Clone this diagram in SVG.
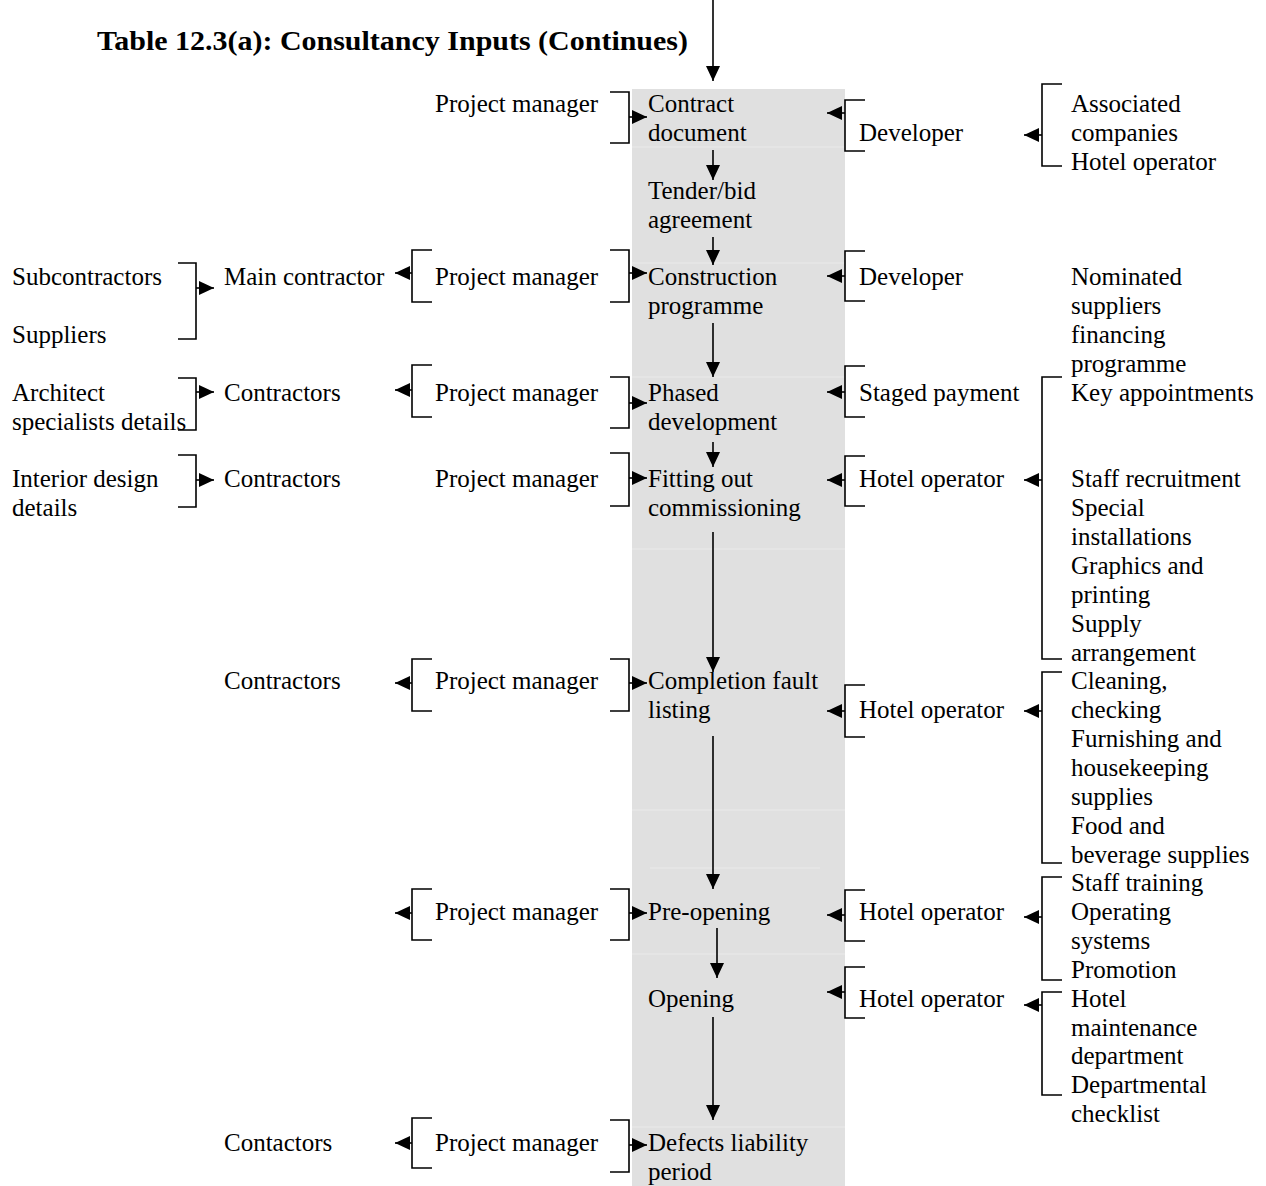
<svg xmlns="http://www.w3.org/2000/svg" width="1266" height="1186" viewBox="0 0 1266 1186">
<style>
.t{font-family:"Liberation Serif","Times New Roman",serif;font-size:25px;fill:#000}
.ti{font-family:"Liberation Serif","Times New Roman",serif;font-size:27px;font-weight:bold;fill:#000}
.c{stroke:#000;stroke-width:1.6;fill:none}
.a{stroke:#000;stroke-width:1.6;fill:none;marker-end:url(#ah)}
.f{stroke:#eaeaea;stroke-width:1}
</style>
<defs>
<marker id="ah" markerUnits="userSpaceOnUse" markerWidth="16" markerHeight="14" refX="15" refY="7" orient="auto"><path d="M0,0 L15,7 L0,14 z" fill="#000"/></marker>
</defs>
<rect width="1266" height="1186" fill="#fff"/>
<rect x="632" y="89" width="213" height="1097" fill="#e0e0e0"/>
<g id="column-rules">
<line class="f" x1="632" y1="147" x2="845" y2="147"/>
<line class="f" x1="632" y1="263" x2="845" y2="263"/>
<line class="f" x1="632" y1="377" x2="845" y2="377"/>
<line class="f" x1="632" y1="549" x2="845" y2="549"/>
<line class="f" x1="632" y1="810" x2="845" y2="810"/>
<line class="f" x1="650" y1="868" x2="820" y2="868"/>
<line class="f" x1="632" y1="954" x2="845" y2="954"/>
<line class="f" x1="632" y1="1127" x2="845" y2="1127"/>
</g>
<text class="ti" x="97" y="50" textLength="591" lengthAdjust="spacingAndGlyphs">Table 12.3(a): Consultancy Inputs (Continues)</text>

<g id="connectors">
<!-- central flow -->
<line class="a" x1="713" y1="0" x2="713" y2="81"/>
<line class="a" x1="713" y1="150" x2="713" y2="180"/>
<line class="a" x1="713" y1="237" x2="713" y2="265"/>
<line class="a" x1="713" y1="323" x2="713" y2="377"/>
<line class="a" x1="713" y1="442" x2="713" y2="467"/>
<line class="a" x1="713" y1="532" x2="713" y2="672"/>
<line class="a" x1="713" y1="736" x2="713" y2="889"/>
<line class="a" x1="717" y1="928" x2="717" y2="978"/>
<line class="a" x1="713" y1="1017" x2="713" y2="1120"/>
<!-- far-left brackets -->
<path class="c" d="M178,263 H196 V339 H178"/><line class="a" x1="196" y1="288" x2="214" y2="288"/>
<path class="c" d="M178,378 H196 V430 H178"/><line class="a" x1="196" y1="392" x2="214" y2="392"/>
<path class="c" d="M178,455 H196 V507 H178"/><line class="a" x1="196" y1="480" x2="214" y2="480"/>
<!-- project manager left brackets -->
<path class="c" d="M432,250 H412 V302 H432"/><line class="a" x1="412" y1="273" x2="395" y2="273"/>
<path class="c" d="M432,365 H412 V417 H432"/><line class="a" x1="412" y1="390" x2="395" y2="390"/>
<path class="c" d="M432,659 H412 V711 H432"/><line class="a" x1="412" y1="683" x2="395" y2="683"/>
<path class="c" d="M432,889 H412 V940 H432"/><line class="a" x1="412" y1="913" x2="395" y2="913"/>
<path class="c" d="M432,1118 H412 V1168 H432"/><line class="a" x1="412" y1="1143" x2="395" y2="1143"/>
<!-- project manager right brackets -->
<path class="c" d="M610,92 H629 V143 H610"/><line class="a" x1="629" y1="117" x2="647" y2="117"/>
<path class="c" d="M610,250 H629 V302 H610"/><line class="a" x1="629" y1="273" x2="647" y2="273"/>
<path class="c" d="M610,377 H629 V428 H610"/><line class="a" x1="629" y1="403" x2="647" y2="403"/>
<path class="c" d="M610,453 H629 V506 H610"/><line class="a" x1="629" y1="478" x2="647" y2="478"/>
<path class="c" d="M610,659 H629 V711 H610"/><line class="a" x1="629" y1="683" x2="647" y2="683"/>
<path class="c" d="M610,889 H629 V940 H610"/><line class="a" x1="629" y1="913" x2="647" y2="913"/>
<path class="c" d="M610,1120 H629 V1172 H610"/><line class="a" x1="629" y1="1145" x2="647" y2="1145"/>
<!-- right-side brackets -->
<path class="c" d="M865,100 H845 V151 H865"/><line class="a" x1="845" y1="113" x2="827" y2="113"/>
<path class="c" d="M865,251 H845 V301 H865"/><line class="a" x1="845" y1="276" x2="827" y2="276"/>
<path class="c" d="M865,366 H845 V417 H865"/><line class="a" x1="845" y1="392" x2="827" y2="392"/>
<path class="c" d="M865,456 H845 V506 H865"/><line class="a" x1="845" y1="480" x2="827" y2="480"/>
<path class="c" d="M865,685 H845 V737 H865"/><line class="a" x1="845" y1="711" x2="827" y2="711"/>
<path class="c" d="M865,890 H845 V941 H865"/><line class="a" x1="845" y1="915" x2="827" y2="915"/>
<path class="c" d="M865,967 H845 V1018 H865"/><line class="a" x1="845" y1="992" x2="827" y2="992"/>
<!-- far-right brackets -->
<path class="c" d="M1062,84 H1042 V166 H1062"/><line class="a" x1="1042" y1="135" x2="1024" y2="135"/>
<path class="c" d="M1062,377 H1042 V659 H1062"/><line class="a" x1="1042" y1="480" x2="1024" y2="480"/>
<path class="c" d="M1062,672 H1042 V863 H1062"/><line class="a" x1="1042" y1="711" x2="1024" y2="711"/>
<path class="c" d="M1062,877 H1042 V980 H1062"/><line class="a" x1="1042" y1="917" x2="1024" y2="917"/>
<path class="c" d="M1062,992 H1042 V1095 H1062"/><line class="a" x1="1042" y1="1005" x2="1024" y2="1005"/>
</g>

<g id="n-pm1"><text class="t" x="435" y="112">Project manager</text></g>
<g id="n-contract"><text class="t" x="648" y="112">Contract</text><text class="t" x="648" y="141">document</text></g>
<g id="n-dev1"><text class="t" x="859" y="141">Developer</text></g>
<g id="n-assoc"><text class="t" x="1071" y="112">Associated</text><text class="t" x="1071" y="141">companies</text><text class="t" x="1071" y="170">Hotel operator</text></g>
<g id="n-tender"><text class="t" x="648" y="199">Tender/bid</text><text class="t" x="648" y="228">agreement</text></g>
<g id="n-sub"><text class="t" x="12" y="285">Subcontractors</text><text class="t" x="12" y="343">Suppliers</text></g>
<g id="n-main"><text class="t" x="224" y="285">Main contractor</text></g>
<g id="n-pm2"><text class="t" x="435" y="285">Project manager</text></g>
<g id="n-construction"><text class="t" x="648" y="285">Construction</text><text class="t" x="648" y="314">programme</text></g>
<g id="n-dev2"><text class="t" x="859" y="285">Developer</text></g>
<g id="n-nominated"><text class="t" x="1071" y="285">Nominated</text><text class="t" x="1071" y="314">suppliers</text><text class="t" x="1071" y="343">financing</text><text class="t" x="1071" y="372">programme</text></g>
<g id="n-arch"><text class="t" x="12" y="401">Architect</text><text class="t" x="12" y="430">specialists details</text></g>
<g id="n-contr1"><text class="t" x="224" y="401">Contractors</text></g>
<g id="n-pm3"><text class="t" x="435" y="401">Project manager</text></g>
<g id="n-phased"><text class="t" x="648" y="401">Phased</text><text class="t" x="648" y="430">development</text></g>
<g id="n-staged"><text class="t" x="859" y="401">Staged payment</text></g>
<g id="n-keyapp"><text class="t" x="1071" y="401">Key appointments</text><text class="t" x="1071" y="487">Staff recruitment</text><text class="t" x="1071" y="516">Special</text><text class="t" x="1071" y="545">installations</text><text class="t" x="1071" y="574">Graphics and</text><text class="t" x="1071" y="603">printing</text><text class="t" x="1071" y="632">Supply</text><text class="t" x="1071" y="661">arrangement</text></g>
<g id="n-interior"><text class="t" x="12" y="487">Interior design</text><text class="t" x="12" y="516">details</text></g>
<g id="n-contr2"><text class="t" x="224" y="487">Contractors</text></g>
<g id="n-pm4"><text class="t" x="435" y="487">Project manager</text></g>
<g id="n-fitting"><text class="t" x="648" y="487">Fitting out</text><text class="t" x="648" y="516">commissioning</text></g>
<g id="n-hotel1"><text class="t" x="859" y="487">Hotel operator</text></g>
<g id="n-contr3"><text class="t" x="224" y="689">Contractors</text></g>
<g id="n-pm5"><text class="t" x="435" y="689">Project manager</text></g>
<g id="n-completion"><text class="t" x="648" y="689">Completion fault</text><text class="t" x="648" y="718">listing</text></g>
<g id="n-hotel2"><text class="t" x="859" y="718">Hotel operator</text></g>
<g id="n-cleaning"><text class="t" x="1071" y="689">Cleaning,</text><text class="t" x="1071" y="718">checking</text><text class="t" x="1071" y="747">Furnishing and</text><text class="t" x="1071" y="776">housekeeping</text><text class="t" x="1071" y="805">supplies</text><text class="t" x="1071" y="834">Food and</text><text class="t" x="1071" y="863">beverage supplies</text></g>
<g id="n-pm6"><text class="t" x="435" y="920">Project manager</text></g>
<g id="n-preopening"><text class="t" x="648" y="920">Pre-opening</text></g>
<g id="n-hotel3"><text class="t" x="859" y="920">Hotel operator</text></g>
<g id="n-training"><text class="t" x="1071" y="891">Staff training</text><text class="t" x="1071" y="920">Operating</text><text class="t" x="1071" y="949">systems</text><text class="t" x="1071" y="978">Promotion</text></g>
<g id="n-opening"><text class="t" x="648" y="1007">Opening</text></g>
<g id="n-hotel4"><text class="t" x="859" y="1007">Hotel operator</text></g>
<g id="n-maint"><text class="t" x="1071" y="1007">Hotel</text><text class="t" x="1071" y="1036">maintenance</text><text class="t" x="1071" y="1064">department</text><text class="t" x="1071" y="1093">Departmental</text><text class="t" x="1071" y="1122">checklist</text></g>
<g id="n-contactors"><text class="t" x="224" y="1151">Contactors</text></g>
<g id="n-pm7"><text class="t" x="435" y="1151">Project manager</text></g>
<g id="n-defects"><text class="t" x="648" y="1151">Defects liability</text><text class="t" x="648" y="1180">period</text></g>
</svg>
